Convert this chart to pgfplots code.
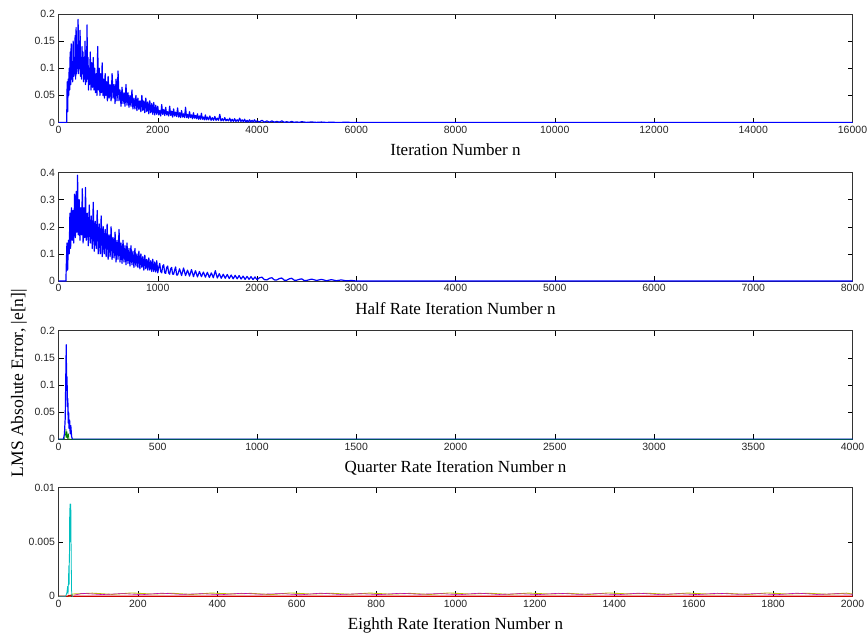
\documentclass[border=0pt]{standalone}
\usepackage{fontspec}
\setmainfont{Liberation Serif}
\newfontfamily\arialfont{Liberation Sans}
\usepackage{pgfplots}
\pgfplotsset{compat=1.18}
\definecolor{mblue}{rgb}{0,0,1}
\definecolor{mgreen}{rgb}{0,0.5,0}
\definecolor{mred}{rgb}{0.8,0,0}
\definecolor{mcyan}{rgb}{0,0.75,0.75}
\definecolor{mmag}{rgb}{0.75,0,0.75}
\definecolor{myel}{rgb}{0.75,0.75,0}
\pgfplotsset{mstyle/.style={
  scale only axis, width=794pt, height=108.5pt, anchor=north west,
  tick align=inside, major tick length=5pt,
  ticklabel style={font=\arialfont\fontsize{10.5}{12}\selectfont, text=black!85},
  /pgf/number format/assume math mode=true,
  /pgf/number format/1000 sep={},
  scaled ticks=false,
  yticklabel style={/pgf/number format/fixed,/pgf/number format/precision=3},
  xlabel style={font=\fontsize{17}{20}\selectfont, at={(axis description cs:0.5,0)}, anchor=base, yshift=-33pt},
  ymin=0, xmin=0,
  axis line style={black!80, line width=0.7pt},
  every tick/.style={black, line width=0.5pt},
  every axis plot/.append style={line width=1.2pt, line join=round},
}}
\begin{document}
\begin{tikzpicture}
% ---------- Plot 1 ----------
\begin{axis}[mstyle, at={(58.5pt,-14pt)}, xmax=16000, ymax=0.2,
  xtick={0,2000,...,16000}, ytick={0,0.05,0.1,0.15,0.2},
  xlabel={Iteration Number n}]
\addplot[mblue] table {
x y
0 0
150 0
165 0
175 0.075
185 0.02
195 0.08
205 0.05
215 0.1
225 0.06
235 0.13
245 0.07
255 0.145
265 0.08
275 0.11
285 0.075
295 0.15
305 0.085
315 0.12
325 0.09
335 0.16
345 0.08
355 0.175
365 0.09
375 0.14
385 0.1
395 0.19
405 0.09
415 0.15
425 0.1
435 0.17
445 0.085
455 0.12
465 0.08
475 0.14
485 0.09
495 0.13
505 0.075
515 0.11
525 0.08
535 0.15
545 0.07
555 0.12
565 0.075
575 0.18
585 0.08
595 0.12
605 0.06
615 0.1
625 0.07
640 0.13
655 0.06
670 0.11
685 0.065
700 0.12
715 0.06
730 0.1
745 0.055
760 0.09
775 0.05
790 0.14
805 0.06
820 0.1
835 0.05
850 0.09
865 0.055
880 0.11
895 0.05
910 0.08
925 0.045
940 0.09
955 0.05
970 0.075
985 0.04
1000 0.085
1020 0.045
1040 0.07
1060 0.04
1080 0.09
1100 0.045
1120 0.07
1140 0.035
1160 0.08
1180 0.04
1200 0.095
1220 0.04
1240 0.06
1260 0.03
1280 0.065
1300 0.035
1320 0.055
1340 0.03
1360 0.07
1380 0.032
1400 0.055
1420 0.028
1440 0.05
1460 0.03
1480 0.06
1500 0.025
1520 0.045
1540 0.025
1560 0.05
1580 0.022
1600 0.045
1620 0.024
1640 0.04
1660 0.02
1680 0.05
1700 0.022
1720 0.04
1740 0.018
1760 0.045
1780 0.02
1800 0.038
1820 0.016
1840 0.04
1860 0.018
1880 0.035
1900 0.015
1920 0.037
1940 0.014
1960 0.032
1980 0.015
2000 0.03
2020 0.014
2040 0.022
2060 0.012
2080 0.033
2100 0.015
2120 0.024
2140 0.013
2160 0.028
2180 0.014
2200 0.02
2220 0.012
2240 0.03
2260 0.013
2280 0.021
2300 0.01
2320 0.025
2340 0.012
2360 0.019
2380 0.011
2400 0.027
2420 0.01
2440 0.018
2460 0.009
2480 0.022
2500 0.01
2520 0.016
2540 0.009
2560 0.028
2580 0.009
2600 0.015
2620 0.008
2640 0.02
2660 0.009
2680 0.014
2700 0.007
2720 0.018
2740 0.008
2760 0.013
2780 0.007
2800 0.016
2820 0.006
2840 0.012
2860 0.006
2880 0.017
2900 0.006
2920 0.01
2940 0.005
2960 0.014
2980 0.005
3000 0.01
3025 0.005
3050 0.012
3075 0.004
3100 0.009
3125 0.004
3150 0.011
3175 0.004
3200 0.008
3225 0.004
3250 0.015
3275 0.003
3300 0.007
3325 0.003
3350 0.009
3375 0.003
3400 0.006
3425 0.003
3450 0.008
3475 0.002
3500 0.006
3525 0.002
3550 0.007
3575 0.002
3600 0.005
3625 0.002
3650 0.008
3675 0.002
3700 0.005
3725 0.0015
3750 0.006
3775 0.001
3800 0.004
3825 0.001
3850 0.005
3875 0.001
3900 0.004
3925 0.001
3950 0.005
3975 0.001
4000 0.003
4050 0.001
4100 0.004
4150 0.0005
4200 0.003
4250 0.0005
4300 0.003
4350 0.0005
4400 0.002
4450 0.0005
4500 0.003
4550 0.0003
4600 0.0015
4650 0.0003
4700 0.002
4750 0.0002
4800 0.0012
4850 0.0002
4900 0.0015
5000 0.0002
5100 0.001
5200 0.0002
5300 0.0008
5400 0.0001
5500 0.0006
5600 0.0001
5800 0.0004
6000 0
16000 0
};
\end{axis}
% ---------- Plot 2 ----------
\begin{axis}[mstyle, at={(58.5pt,-172.5pt)}, xmax=8000, ymax=0.4,
  xtick={0,1000,...,8000}, ytick={0,0.1,0.2,0.3,0.4},
  xlabel={Half Rate Iteration Number n}]
\addplot[mblue] table {
x y
0 0
75 0
78 0.05
85 0.14
92 0.04
100 0.15
108 0.1
115 0.25
122 0.12
130 0.27
138 0.15
146 0.26
154 0.14
162 0.32
170 0.16
178 0.33
186 0.18
192 0.39
200 0.17
208 0.3
216 0.15
224 0.27
232 0.17
240 0.34
248 0.14
256 0.27
264 0.16
272 0.345
280 0.15
290 0.25
300 0.13
310 0.28
320 0.14
330 0.24
340 0.12
350 0.29
360 0.11
370 0.22
380 0.12
390 0.26
400 0.1
410 0.21
420 0.1
430 0.24
440 0.09
450 0.2
460 0.1
470 0.19
480 0.09
490 0.21
500 0.08
510 0.17
520 0.09
530 0.2
540 0.08
550 0.16
560 0.085
570 0.18
580 0.07
590 0.15
600 0.08
610 0.19
620 0.07
630 0.14
640 0.065
650 0.15
660 0.07
670 0.13
680 0.06
690 0.14
700 0.065
710 0.12
720 0.055
730 0.13
740 0.06
750 0.11
760 0.05
770 0.12
780 0.055
790 0.1
800 0.05
810 0.11
820 0.045
830 0.1
840 0.05
850 0.09
860 0.04
870 0.095
880 0.045
890 0.08
900 0.04
910 0.085
920 0.04
930 0.075
940 0.035
950 0.08
960 0.035
970 0.07
980 0.033
990 0.075
1000 0.03
1010 0.05
1020 0.065
1030 0.035
1040 0.03
1050 0.055
1060 0.06
1070 0.03
1080 0.028
1090 0.05
1100 0.055
1110 0.03
1120 0.025
1130 0.045
1140 0.05
1150 0.025
1160 0.025
1170 0.04
1180 0.052
1190 0.022
1200 0.022
1220 0.045
1240 0.02
1260 0.048
1280 0.02
1300 0.04
1320 0.018
1340 0.042
1360 0.016
1380 0.038
1400 0.015
1420 0.035
1440 0.016
1460 0.033
1480 0.014
1500 0.032
1520 0.013
1540 0.03
1560 0.012
1580 0.038
1600 0.011
1620 0.027
1640 0.01
1660 0.025
1680 0.01
1700 0.024
1720 0.009
1740 0.022
1760 0.008
1780 0.021
1800 0.008
1820 0.02
1840 0.007
1860 0.018
1880 0.006
1900 0.017
1920 0.006
1940 0.016
1960 0.005
1980 0.015
2000 0.005
2025 0.012
2050 0.014
2075 0.005
2100 0.004
2125 0.01
2150 0.012
2175 0.004
2200 0.004
2225 0.009
2250 0.011
2275 0.003
2300 0.003
2325 0.008
2350 0.01
2375 0.003
2400 0.003
2425 0.006
2450 0.008
2475 0.002
2500 0.002
2550 0.007
2600 0.002
2650 0.006
2700 0.001
2750 0.005
2800 0.001
2850 0.004
2900 0.0005
2950 0.002
3000 0
8000 0
};
\end{axis}
% ---------- Plot 3 ----------
\begin{axis}[mstyle, at={(58.5pt,-330.7pt)}, xmax=4000, ymax=0.2,
  xtick={0,500,...,4000}, ytick={0,0.05,0.1,0.15,0.2},
  xlabel={Quarter Rate Iteration Number n}]
\addplot[mblue] table {
x y
0 0
25 0
30 0.01
34 0.04
37 0.12
39 0.174
41 0.09
43 0.115
45 0.06
47 0.075
49 0.03
51 0.05
53 0.02
56 0.035
59 0.01
62 0.025
66 0.005
70 0
4000 0
};
\addplot[mgreen, line width=0.6pt] table {
x y
0 0
30 0
35 0.008
38 0.018
40 0.003
43 0.014
46 0
50 0.01
53 0
4000 0
};
\end{axis}
% ---------- Plot 4 ----------
\begin{axis}[mstyle, at={(58.5pt,-487.7pt)}, xmax=2000, ymax=0.01,
  xtick={0,200,...,2000}, ytick={0,0.005,0.01},
  xlabel={Eighth Rate Iteration Number n}]
\addplot[myel, line width=0.9pt] table {
x y
0 0
30 0
35 0.0002
85 0.00028
135 0.00017
185 0.0003
235 0.0002
285 0.00027
335 0.00016
385 0.00029
435 0.00021
485 0.00026
535 0.00015
585 0.0003
635 0.0002
685 0.00027
735 0.00018
785 0.00029
835 0.00019
885 0.00026
935 0.00016
985 0.0003
1035 0.0002
1085 0.00027
1135 0.00017
1185 0.00029
1235 0.0002
1285 0.00026
1335 0.00016
1385 0.0003
1435 0.00021
1485 0.00027
1535 0.00017
1585 0.00029
1635 0.0002
1685 0.00026
1735 0.00016
1785 0.0003
1835 0.0002
1885 0.00027
1935 0.00018
1985 0.00028
2000 0.0002
};
\addplot[mmag, line width=0.6pt] table {
x y
40 0.0001
60 0.00026
110 0.00015
160 0.00024
210 0.00014
260 0.00028
310 0.00017
360 0.00023
410 0.00014
460 0.00027
510 0.00018
560 0.00024
610 0.00013
660 0.00028
710 0.00016
760 0.00023
810 0.00015
860 0.00027
910 0.00018
960 0.00024
1010 0.00014
1060 0.00028
1110 0.00016
1160 0.00023
1210 0.00015
1260 0.00027
1310 0.00017
1360 0.00024
1410 0.00014
1460 0.00028
1510 0.00016
1560 0.00023
1610 0.00015
1660 0.00027
1710 0.00018
1760 0.00024
1810 0.00014
1860 0.00028
1910 0.00016
1960 0.00023
2000 0.00018
};
\addplot[mred, line width=1.2pt] table {
x y
0 0
24 0
26 0.00008
29 0.00004
32 0.0001
35 0
2000 0
};
\addplot[mcyan, line width=0.8pt] table {
x y
0 0
18 0
21 0.0003
23 0.0009
24 0.0002
25 0.0012
26 0.0028
27 0.0011
28 0.0072
29 0.0085
30 0.005
31 0.0085
32 0.0035
33 0.0005
34 0
36 0
};
\end{axis}
\node[rotate=90, font=\fontsize{17.5}{20}\selectfont] at (19pt,-383pt) {LMS Absolute Error, |e[n]|};
\pgfresetboundingbox
\path (0,0) rectangle (867pt,-637pt);
\end{tikzpicture}
\end{document}
